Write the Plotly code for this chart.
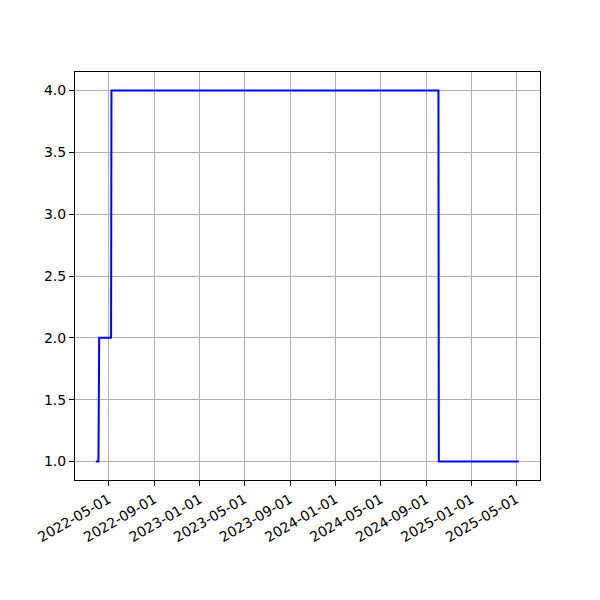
import plotly.graph_objects as go

dates = ["2022-03-28", "2022-04-04", "2022-04-06", "2022-05-08", "2022-05-09",
         "2024-10-04", "2024-10-05", "2025-05-08"]
values = [1, 1, 2, 2, 4, 4, 1, 1]

tick_dates = ["2022-05-01", "2022-09-01", "2023-01-01", "2023-05-01", "2023-09-01",
              "2024-01-01", "2024-05-01", "2024-09-01", "2025-01-01", "2025-05-01"]
y_ticks = [1.0, 1.5, 2.0, 2.5, 3.0, 3.5, 4.0]

fig = go.Figure()
fig.add_trace(go.Scatter(x=dates, y=values, mode="lines",
                         line=dict(color="blue", width=2), showlegend=False))

fig.update_layout(
    width=600, height=600,
    margin=dict(l=67, r=68, t=64, b=128),
    paper_bgcolor="white", plot_bgcolor="white",
    font=dict(family="DejaVu Sans", size=14, color="black"),
)
fig.update_xaxes(
    type="date", range=["2022-01-31", "2025-07-04"],
    tickvals=tick_dates, ticktext=tick_dates, tickangle=-30,
    showgrid=True, gridcolor="#b0b0b0", gridwidth=1,
    showline=True, linecolor="black", linewidth=1, mirror=True,
    ticks="outside", ticklen=5, tickcolor="black", zeroline=False,
)
fig.update_yaxes(
    range=[0.85, 4.15], tickvals=y_ticks, ticktext=[f"{v:.1f}" for v in y_ticks],
    showgrid=True, gridcolor="#b0b0b0", gridwidth=1,
    showline=True, linecolor="black", linewidth=1, mirror=True,
    ticks="outside", ticklen=5, tickcolor="black", zeroline=False,
)
fig.write_html("out.html")
